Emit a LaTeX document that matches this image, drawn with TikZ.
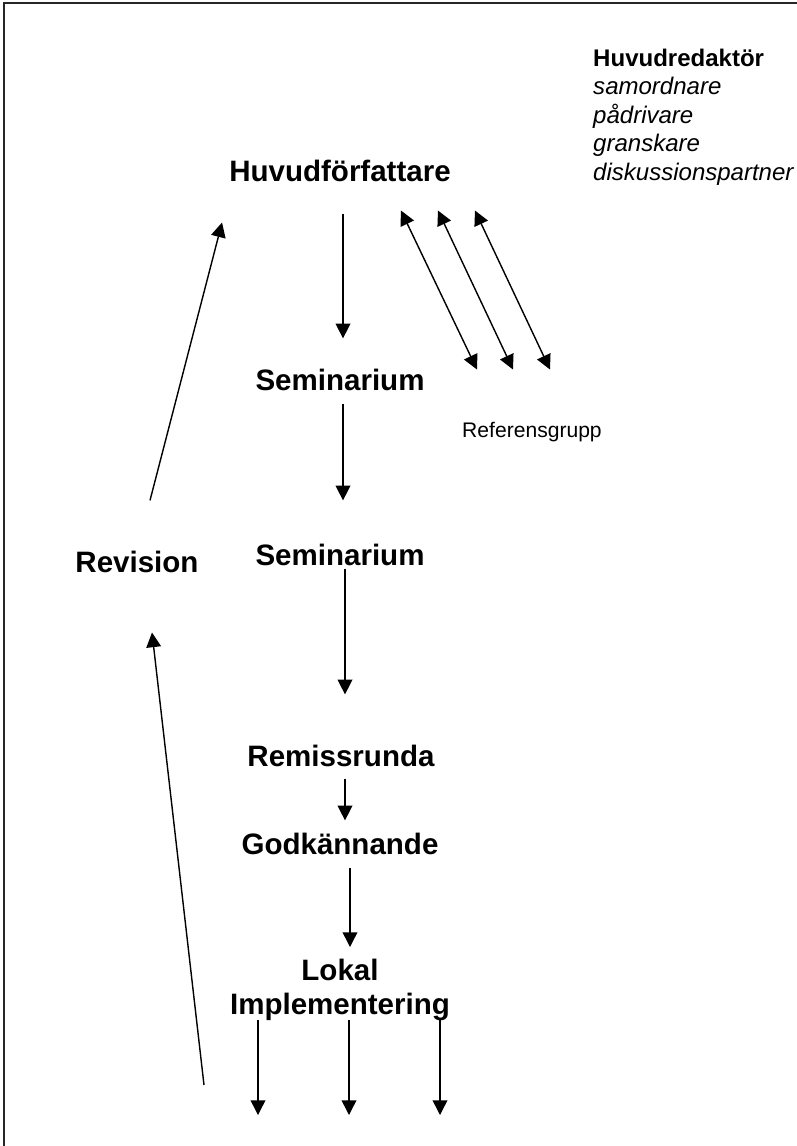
\documentclass[tikz,border=0pt]{standalone}
\usepackage{fontspec}
\setmainfont{Liberation Sans}
\usetikzlibrary{arrows.meta,positioning}
\tikzset{
  TB/.style={inner sep=0pt,font=\fontsize{25.2}{29}\selectfont\bfseries,align=center},
  TN/.style={inner sep=0pt,font=\fontsize{18}{22}\selectfont},
  TL/.style={inner sep=0pt,font=\fontsize{20.5}{24.2}\selectfont,align=left},
  arr/.style={-{Triangle[length=12.5pt,width=12.5pt]},line width=1.2pt},
  darr/.style={{Triangle[length=12.5pt,width=12.5pt]}-{Triangle[length=12.5pt,width=12.5pt]},line width=1.2pt},
  frame/.style={line width=1.4pt,draw=black!85}
}

\begin{document}
\begin{tikzpicture}[x=0.03cm,y=-0.03cm]
  \useasboundingbox (0,0) rectangle (797,1146);
  \draw[frame] (4,1146) |- (797,3);

  \node[TL,anchor=north west] (chief) at (593,49) {\textbf{Huvudredaktör}\\\textit{samordnare}\\\textit{pådrivare}\\\textit{granskare}\\\textit{diskussionspartner}};
  \node[TB,anchor=base] (author) at (340,181) {Huvudförfattare};
  \node[TB,anchor=base] (sem1) at (340,390) {Seminarium};
  \node[TN,anchor=base west] (refgroup) at (462,437) {Referensgrupp};
  \node[TB,anchor=base] (sem2) at (340,565) {Seminarium};
  \node[TB,anchor=base] (revision) at (137,572) {Revision};
  \node[TB,anchor=base] (remiss) at (341,766) {Remissrunda};
  \node[TB,anchor=base] (approval) at (340,854) {Godkännande};
  \node[TB,anchor=north] (local) at (340,959) {Lokal\\Implementering};

  \coordinate (out1) at (258,1115);
  \coordinate (out2) at (349,1115);
  \coordinate (out3) at (440,1115);
  \coordinate (revfoot) at (204,1085);

  % main flow
  \draw[arr] ([shift={(3,32)}]author.south) -- ([shift={(3,-30)}]sem1.north);
  \draw[arr] ([shift={(3,13)}]sem1.south) -- ([shift={(3,-43)}]sem2.north);
  \draw[arr] ([shift={(5,3)}]sem2.south) -- ([shift={(4,-50)}]remiss.north);
  \draw[arr] ([shift={(4,12)}]remiss.south) -- ([shift={(5,-12)}]approval.north);
  \draw[arr] ([shift={(10,13)}]approval.south) -- ([shift={(10,-12)}]local.north);
  \draw[arr] ([shift={(-82,-1)}]local.south) -- (out1);
  \draw[arr] ([shift={(9,-1)}]local.south) -- (out2);
  \draw[arr] ([shift={(100,-1)}]local.south) -- (out3);

  % reference group
  \draw[darr] ([shift={(-50,29)}]author.south east) -- ([shift={(15,-52)}]refgroup.north west);
  \draw[darr] ([shift={(-13,29)}]author.south east) -- ([shift={(51,-52)}]refgroup.north west);
  \draw[darr] ([shift={(24,29)}]author.south east) -- ([shift={(88,-52)}]refgroup.north west);

  % revision loop
  \draw[arr] ([shift={(13,-50)}]revision.north) -- ([shift={(-7,41)}]author.south west);
  \draw[arr] (revfoot) -- ([shift={(15,60)}]revision.south);
\end{tikzpicture}
\end{document}
